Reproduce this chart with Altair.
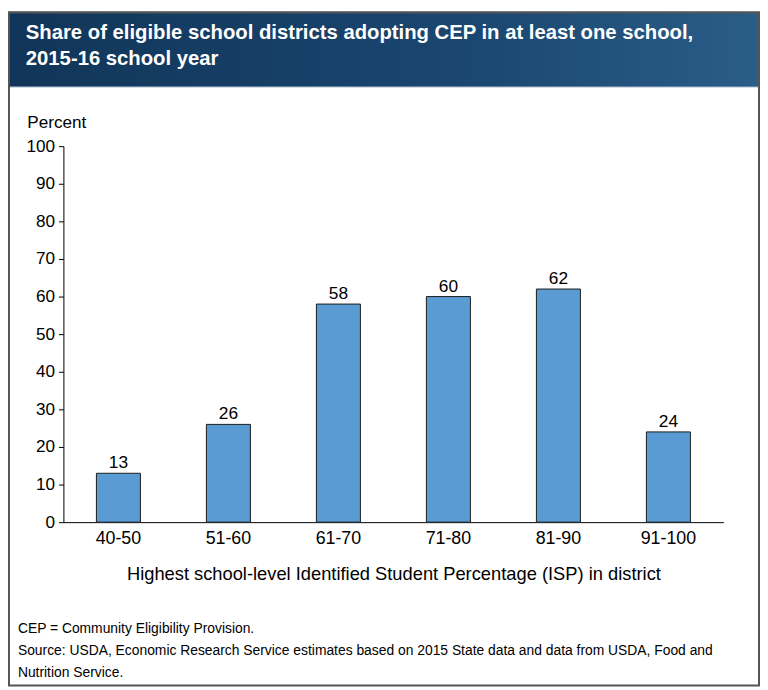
import altair as alt
import pandas as pd

# ---- data ----
categories = ["40-50", "51-60", "61-70", "71-80", "81-90", "91-100"]
values = [13, 26, 58, 60, 62, 24]
y_ticks = [0, 10, 20, 30, 40, 50, 60, 70, 80, 90, 100]
title_lines = [
    "Share of eligible school districts adopting CEP in at least one school,",
    "2015-16 school year",
]
note_lines = [
    "CEP = Community Eligibility Provision.",
    "Source: USDA, Economic Research Service estimates based on 2015 State data and data from USDA, Food and",
    "Nutrition Service.",
]
y_title = "Percent"
x_title = "Highest school-level Identified Student Percentage (ISP) in district"

FONT = "Liberation Sans"

df = pd.DataFrame({"isp": categories, "pct": values})
one = pd.DataFrame({"k": [0]})

x_enc = alt.X(
    "isp:N",
    sort=categories,
    scale=alt.Scale(paddingInner=0.6, paddingOuter=0.3),
    axis=alt.Axis(
        title=x_title,
        labelAngle=0,
        ticks=False,
        labelFontSize=18,
        labelColor="black",
        labelBaseline="alphabetic",
        labelPadding=22,
        labelOverlap=False,
        titleFontSize=18.5,
        titleFontWeight="normal",
        titleColor="black",
        titleY=58,
        titleBaseline="alphabetic",
        domainColor="black",
        domainWidth=1,
    ),
)
y_enc = alt.Y(
    "pct:Q",
    scale=alt.Scale(domain=[0, 100], nice=False),
    axis=alt.Axis(
        values=y_ticks,
        tickCount=11,
        labelOverlap=False,
        title=y_title,
        titleAngle=0,
        titleX=-37,
        titleY=-19,
        titleAlign="left",
        titleBaseline="alphabetic",
        titleFontSize=17.3,
        titleFontWeight="normal",
        titleColor="black",
        grid=False,
        tickSize=5,
        tickColor="black",
        domainColor="black",
        labelFontSize=17.3,
        labelPadding=4,
        labelColor="black",
    ),
)

banner = alt.Chart(one).mark_rect(
    fill=alt.LinearGradient(
        gradient="linear",
        stops=[
            alt.GradientStop(color="#113558", offset=0),
            alt.GradientStop(color="#1a4670", offset=0.6),
            alt.GradientStop(color="#2a5d88", offset=1),
        ],
        x1=0, x2=1, y1=0, y2=0,
    )
).encode(x=alt.value(-56), x2=alt.value(704), y=alt.value(-136), y2=alt.value(-60))

banner_line = alt.Chart(one).mark_rule(color="#6a88a6", strokeWidth=1).encode(
    x=alt.value(-56), x2=alt.value(704), y=alt.value(-60)
)

border = alt.Chart(one).mark_rect(fillOpacity=0, stroke="#555555", strokeWidth=2).encode(
    x=alt.value(-55), x2=alt.value(703), y=alt.value(-135), y2=alt.value(545)
)

title_text = alt.Chart(one).mark_text(
    align="left", baseline="alphabetic", fontSize=20.5, fontWeight="bold",
    color="white", lineHeight=26, font=FONT,
).encode(x=alt.value(-38), y=alt.value(-108), text=alt.value(title_lines))

notes = alt.Chart(one).mark_text(
    align="left", baseline="alphabetic", fontSize=14, color="black",
    lineHeight=22, font=FONT,
).encode(x=alt.value(-46), y=alt.value(492), text=alt.value(note_lines))

bars = alt.Chart(df).mark_bar(color="#5b9bd4", stroke="#1a1a1a", strokeWidth=1).encode(
    x=x_enc, y=y_enc
)

bar_labels = alt.Chart(df).mark_text(
    baseline="alphabetic", dy=-5, fontSize=17.5, font=FONT, color="black"
).encode(x=x_enc, y=y_enc, text="pct:Q")

chart = (
    alt.layer(banner, banner_line, border, bars, bar_labels, title_text, notes)
    .properties(
        width=667,
        height=380,
        padding={"left": 56, "top": 136, "right": 37, "bottom": 166},
        autosize=alt.AutoSizeParams(type="none"),
        background="white",
    )
    .configure(font=FONT)
    .configure_view(stroke=None)
)

chart.save("out.html", embed_options={"renderer": "svg", "actions": False})
